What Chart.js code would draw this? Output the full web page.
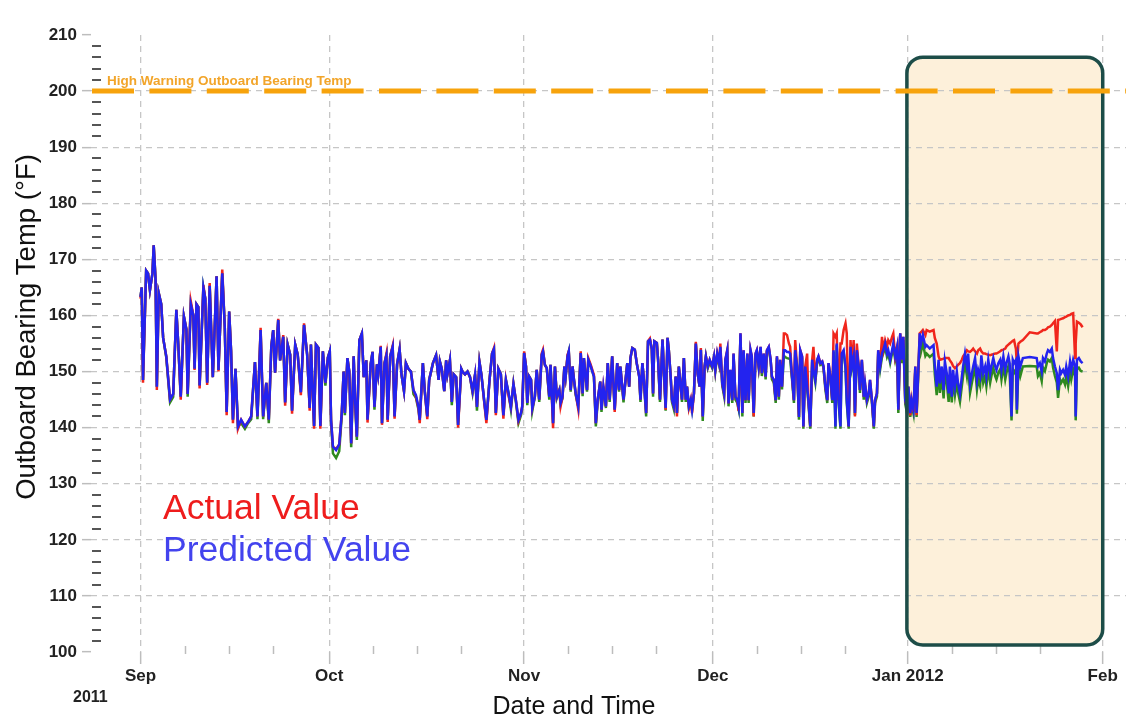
<!DOCTYPE html>
<html><head><meta charset="utf-8">
<script src="https://cdn.jsdelivr.net/npm/chart.js@4.4.1/dist/chart.umd.min.js"></script>
<style>html,body{margin:0;padding:0;background:#fff;}canvas{display:block;}</style>
</head><body>
<canvas id="c" width="1126" height="716"></canvas>
<script>
// ---- axis / label data (days counted from 1 Sep 2011) ----
const monthTicks = [0, 30, 61, 91, 122, 153];
const monthLabels = ['Sep', 'Oct', 'Nov', 'Dec', 'Jan 2012', 'Feb'];
const weekTicks = [7, 14, 21, 37, 44, 51, 68, 75, 82, 98, 105, 112, 129, 136, 143];
const yearLabel = '2011';
const yRange = [100, 210];
const warningLevel = 200;
const warningLabel = 'High Warning Outboard Bearing Temp';
const highlightDays = [121.86, 153.0];
const highlightTemps = [101.25, 206.05];
const seriesNames = ['Actual Value', 'Predicted Value'];
const xTitle = 'Date and Time';
const yTitle = 'Outboard Bearing Temp (\u00B0F)';

// ---- series values ----
const daysSep = [0,0.2,0.4,0.9,1.2, 1.5,1.9,2.1,2.4,2.6, 2.9,3.3,3.6,4.1,4.7, 5.2,5.7,6.0,6.4,6.9, 7.3,7.5,8.0,8.4,8.6, 8.9,9.2,9.4,10.0,10.3, 10.6,11.0,11.5,12.1,12.4, 13.0,13.4,13.7,14.1,14.4, 14.7,15.1,15.5,16.0,16.6, 17.1,17.6,18.2,18.6,19.1, 19.5,20.0,20.4,20.8,21.1, 21.4,21.9,22.2,22.7,23.0, 23.4,23.8,24.1,24.6,25.0, 25.5,26.0,26.5,26.9,27.1, 27.6,27.9,28.3,28.6,29.0, 29.4,29.8];
const predSep = [163.3,165,148.5,168,167.5, 164.5,167.5,172.5,166.3,147.3, 164,162,156,152.7,145, 146,161,155,145.5,159.8, 157.5,146,162,160,150.5, 162,161.5,147.5,165,163, 148,165.3,149,167,150.3, 167.5,158,142.8,160.7,153.8, 141.4,150.5,140.2,141.4,140.2, 141,142,151.7,142,157.4, 142,148,141.4,154.5,157.4, 149.8,159.2,152,156.2,144.5, 154.8,153,143,154.8,153, 146.3,158.3,153,143.5,154.8, 140.3,154.8,154.2,140.3,153.6, 148,152.5];
const actSep = [163.0,165,148,168,167.5, 164.5,167.5,172.5,166.3,146.7, 164,162,156,152.7,145, 146,161,155,145,159.8, 157.5,146,162.5,160,150.3, 162,161.5,147,165.4,163, 147.6,165.8,149,167,150, 168.2,158,142.2,160.7,153.8, 140.8,150.5,139.8,141.4,140.2, 141,142,151.7,142,157.8, 142,148,141.4,154.5,157.4, 149.8,159.4,152,156.5,143.9, 154.8,153,142.5,154.8,153, 145.8,158.6,153,143,154.8, 139.8,154.8,154.2,139.8,153.6, 148,152.5];
const lowSep = [163.3,165,148.5,168,167.5, 164.5,167.5,172.5,166.3,147.3, 164,162,156,152.5,144.5, 145.5,161,155,145.5,159.8, 157.5,145.5,162,160,150.5, 162,161.5,147.5,165,163, 148,165.3,149,167,150.3, 167.5,158,142.8,160.7,153.8, 141.4,150.5,140.2,140.8,139.8, 140.8,141.5,151.7,141.5,157.4, 141.5,148,140.8,154.5,157.4, 149.8,159.2,152,156.2,144.5, 154.8,153,143,154.8,153, 146.3,158.3,153,143.5,154.8, 140.3,154.8,154.2,140.3,153.6, 147.5,152.5];

const daysOct = [30.1,30.3,30.6,31.1,31.6, 32.0,32.3,32.5,32.9,33.2, 33.5,33.9,34.1,34.4,34.8, 35.2,35.5,35.9,36.1,36.6, 36.9,37.2,37.6,37.8,38.2, 38.4,38.8,39.1,39.3,39.7, 40.1,40.4,40.8,41.2,41.5, 41.9,42.2,42.6,43.0,43.4, 43.8,44.2,44.4,44.9,45.2, 45.6,45.9,46.5,47.0,47.4, 47.6,47.9,48.3,48.6,48.8, 49.2,49.5,49.8,50.2,50.5, 51.0,51.2,51.6,52.0,52.4, 52.8,53.2,53.5,53.9,54.2, 54.7,55.0,55.5,55.9,56.2, 56.5,56.9,57.3,57.7,58.1, 58.5,58.9,59.3,59.7,60.1, 60.5];
const predOct = [153.6,141.4,136.6,136,137, 142.6,150,142.6,152.4,150, 137.2,152.7,145.5,138.4,155.6, 156.8,149,152,141.4,151.3, 153.5,143.7,151.3,149.5,154.4, 140.8,151.5,152.9,141.4,152.7, 154.4,142,151.3,154,149.5, 146.5,151.5,150.5,150,146.7, 145.8,143.7,141.4,151.5,146.5, 142,148.5,151.5,152.9,148.5, 151.8,150.5,146.5,152,149.5, 152,144.6,149.5,149,140.5, 150.5,150,149.5,150,149, 146.5,149.5,143.7,151.7,149.5, 144.3,141.4,148.5,153.2,154, 142.6,150.5,149.5,142.2,148.5, 146.3,143.7,147.8,144.8,141.4, 142.6];
const actOct = [153.6,141.4,136.6,136.2,137, 142.6,150,142.6,152.4,150, 137.2,152.7,145.5,138.4,155.6, 156.8,149,152,140.9,151.3, 153.5,143.7,151.3,149.5,154.6, 140.5,151.5,153.2,141,152.7, 154.6,141.6,151.3,154,149.5, 146.5,151.5,150.5,150,146.7, 145.5,143.5,140.8,151.5,146.5, 141.5,148.5,151.5,152.9,148.5, 151.8,150.5,146.5,152,149.5, 152,144.6,149.5,149,140, 150.5,150,149.5,150,149, 146.5,149.5,143.7,151.7,149.5, 144,140.8,148.5,153.2,154.2, 142.2,150.5,149.5,141.6,148.5, 145.8,143.7,147.8,144.8,141.2, 142.6];
const lowOct = [153.6,141,135.4,134.6,135.8, 142,150,142.2,152.4,150, 136.5,152.7,145,137.8,155.6, 156.8,149,152,141.4,151.3, 153.5,143.2,151.3,149.5,154.4, 140.8,151.5,152.9,141.4,152.7, 154.4,142,151.3,154,149.5, 146.5,151.5,150.5,150,146, 145.3,143.2,141.4,151.5,146.5, 142,148.5,151.5,152.9,148.5, 151.8,150.5,146.5,152,149.5, 152,144,149.5,149,140.5, 150.5,150,149.5,150,149, 146.2,149.5,143,151.7,149.5, 144.3,141.4,148.5,153.2,154, 142.6,150.5,149.5,142.2,148.5, 146.3,143.2,147.8,144.5,140.8, 142.2];

const daysNov = [60.7,61.0,61.3,61.5,61.8,62.1,62.3,62.7,63.0,63.4, 63.8,64.0,64.3,64.6,65.0,65.2,65.6,65.9,66.2,66.6, 66.8,67.1,67.4,67.6,67.9,68.1,68.4,68.7,68.9,69.2, 69.6,70.0,70.3,70.5,71.0,71.2,71.6,72.1,72.4,72.7, 73.1,73.3,73.6,74.0,74.3,74.6,75.0,75.4,75.8,76.1, 76.3,76.8,77.1,77.4,77.7,77.9,78.2,78.6,78.9,79.3, 79.5,79.8,80.0,80.4,80.7,81.0,81.3,81.5,81.7,82.1, 82.3,82.6,83.0,83.2,83.5,83.8,84.0,84.3,84.5,84.8, 85.1,85.3,85.6,85.9,86.1,86.4,86.7,86.9,87.2,87.5, 87.7,88.0,88.3,88.6,88.9,89.1,89.4,89.7,89.9,90.2, 90.5];
const predNov = [143.8,153.3,150.9,144.4,149.1,148.5,143.5,145.5,150.3,145, 153,153.6,151.2,150.6,145.5,151.2,140.8,150.9,145.5,146.7, 144.4,145.5,150.9,149.1,152.7,153.6,146.7,150.9,148.8,146.1, 143.8,153.3,146.1,152.4,146.7,152.1,150.9,149.1,140.8,145, 148.2,143.2,147.3,143.8,151.5,145,152.7,143.2,151.5,146.7, 150.9,145,148.2,151.5,147.3,152.4,154.2,153.9,151.5,149.1, 145,151.5,149.1,142.6,155.4,155.7,154,146.1,155.4,155.1, 152.1,145,155.7,150.9,143.5,156,153.9,149.1,145,143.8, 149.1,142.6,150.9,147.3,145,152.4,145,147.3,143.8,145, 143.2,146.1,155,149.6,147.3,153.9,142,150.9,152.7,150.9, 152.1];
const actNov = [143.8,153.6,150.9,144.4,149.1,148.5,143.5,145.5,150.3,145, 153.2,153.9,151.2,150.6,145.5,151.2,139.9,150.9,145.5,146.7, 143.8,145.5,150.9,149.1,153,153.6,146.7,150.9,148.8,146.1, 143.3,153.6,146.1,152.4,146.7,152.4,151.2,149.4,140.8,145, 148.2,143.2,147.3,143.8,151.5,145,152.7,142.8,151.5,146.7, 150.9,145,148.2,151.5,147.3,152.4,154.2,153.9,151.5,149.1, 145,151.5,149.1,142.6,155.4,155.9,154,146.1,155.4,155.1, 152.1,145,155.7,150.9,143.2,156,153.9,149.1,145,143.8, 149.1,142,150.9,147.3,145,152.4,145,147.3,143.5,145, 142.6,146.1,155.3,149.6,147.3,154.2,142,150.9,152.7,150.9, 152.1];
const lowNov = [143.4,153.3,150.9,144,149.1,148.5,143,145.5,150.3,144.6, 153,153.6,151.2,150.6,145,151.2,140.8,150.9,145.3,146.7, 144.2,145.2,150.9,149.1,152.7,153.6,146.4,150.9,148.8,145.8, 143.8,153.3,145.6,152.4,146.4,152.1,150.9,149.1,140.2,144.6, 148.2,142.8,147.3,143.5,151.5,144.6,152.7,143.2,151.5,146.4, 150.9,144.5,148.2,151.5,147.3,152.4,154.2,153.9,151.5,149.1, 144.6,151.5,149.1,142,155.4,155.7,154,145.5,155.4,155.1, 152.1,144.6,155.7,150.9,143,156,153.9,149.1,144.6,143.3, 149.1,142.6,150.9,147.3,144.6,152.4,144.6,147.3,143.5,144.6, 143.2,146.1,155,149.6,147.3,153.9,141.2,150.9,152.7,150.6, 151.6];

const daysDec = [90.9,91.2,91.4,91.7,92.0,92.2,92.5,92.8,93.0,93.3, 93.5,93.8,94.1,94.3,94.6,94.9,95.1,95.4,95.7,95.9, 96.2,96.5,96.7,97.0,97.2,97.5,97.8,98.0,98.3,98.6, 98.8,99.1,99.4,99.6,99.9,100.2,100.4,100.7,101.0,101.2, 101.5,101.7,102.0,102.3,102.5,102.8,103.1,103.3,103.6,103.9, 104.1,104.4,104.7,104.9,105.2,105.4,105.7,106.0,106.2,106.5, 106.8,107.0,107.3,107.6,107.8,108.1,108.4,108.6,108.9,109.2, 109.4,109.7,110.0,110.2,110.5,110.7,111.0,111.3,111.5,111.8, 112.1,112.3,112.6,112.9,113.1,113.4,113.6,113.9,114.2,114.4, 114.7,115.0,115.2,115.5,115.8,116.0,116.3,116.6,116.8,117.1, 117.3,117.6,117.9,118.1,118.4,118.7,118.9,119.2,119.5,119.7, 120.0,120.3,120.5,120.8,121.1,121.3,121.6,121.9];
const predDec = [150.9,152.7,150.3,153.2,151.5,154.4,147.9,146.1,152.1,153.8, 144.3,150.3,144.9,153.2,145.5,144.9,143.7,156.8,142.6,153.8, 144.9,153.2,144.9,153.8,152.7,142.6,153.2,153.8,150.9,154.4, 149.7,153.2,149.1,153.8,154.4,152.1,149.1,148.5,144.9,152.7, 145.5,152.1,147.3,153.8,153.8,153.5,153.5,153.2,149.1,144.9, 153.8,150.9,141.9,153.8,152.7,140.2,150.9,147.3,144.9,140.2, 152.1,150.3,148.5,152.1,152.7,151.5,151.8,150.9,147.3,144.9, 151.5,149.1,144.9,153.8,140.2,155,144.9,140.2,153.2,153.8, 150.9,144.9,140.2,154.4,150.9,152.7,142.6,153.8,150.9,146.7, 152.1,145.5,147.9,144.9,146.1,148.5,144.9,140.2,144.9,146.1, 153.8,150.9,153.2,153.8,155,153.2,153.8,152.1,153.8,155, 152.7,154.4,143.2,156.8,152.1,156.2,144.9,143.2];
const actDec = [150.9,152.7,150.3,153.2,151.5,155,147.9,146.1,152.1,153.8, 144.3,150.3,144.9,153.2,145.5,144.9,143,156.8,142.6,153.8, 144.9,153.2,144.9,153.8,152.7,142,153.2,153.8,150.9,154.4, 149.7,153.2,149.1,153.8,154.4,152.1,149.1,148.5,144.9,152.7, 145.5,152.1,147.3,156.8,156.8,156.5,155,154.4,149.1,144.9, 155.6,150.9,141.9,153.8,152.7,140.2,150.9,153.2,144.9,140.2, 152.1,154.4,148.5,152.1,152.7,151.5,151.8,150.9,147.3,144.9, 151.5,149.1,144.9,156.8,156.2,156.8,144.9,155,155,157.4, 158.6,156.8,140.2,155.6,150.9,155.6,142,155,150.9,146.7, 152.1,145.5,147.9,144.9,146.1,148.5,144.9,140.2,144.9,146.1, 153.8,150.9,156.2,153.8,155.6,154.4,155.6,155,156.2,156.8, 152.7,154.4,143.2,156.8,152.1,156.2,144.9,143.2];
const lowDec = [150.6,152.4,150,152.9,151.2,154.1,147.5,145.6,151.8,153.5, 143.8,150,144.4,152.9,145,144.4,143.3,156.5,142,153.5, 144.4,152.9,144.4,153.5,152.4,142,152.9,153.5,150.6,154.1, 149.2,152.9,148.6,153.5,154.1,151.8,148.6,148,144.4,152.4, 145,151.8,146.8,152.8,152.6,152.4,152.3,152.2,148.6,144.4, 153.5,150.6,141.4,153.5,152.4,139.8,150.6,146.8,144.4,139.8, 151.8,150,148,151.8,152.4,151.2,151.5,150.6,146.8,144.4, 151.2,148.6,144.4,153.5,139.8,154.7,144.4,139.8,152.9,153.5, 150.6,144.4,139.8,154.1,150.6,152.4,142.2,153.5,150.6,146.2, 151.8,145,147.5,144.4,145.6,148,144.4,139.8,144.4,145.6, 153.2,150.3,152.6,153.2,154.4,152.6,153.2,151.5,153.2,154.4, 152.1,153.8,142.6,156.2,151.5,155.6,144.2,142.5];

const daysJan = [122.1,122.4,122.6,122.9,123.2,123.4,123.7, 123.9,124.1,124.4,124.8,125.0,125.5,126.1,126.3,126.6,126.9, 127.1,127.4,127.7,127.9,128.2,128.5,128.7,129.0,129.2,129.5, 129.8,130.0,130.3,130.6,130.8,131.1,131.4,131.6,131.9,132.2, 132.4,132.7,133.0,133.2,133.5,133.7,134.0,134.3,134.5,134.8, 135.1,135.3,135.6,135.9,136.1,136.4,136.7,136.9,137.2,137.5, 137.7,138.0,138.2,138.5,138.7,138.9,139.2,139.35,139.6,139.9, 140.3,141.4,142.5,142.7,143.0,143.3,143.5,143.8,144.1,144.3, 144.6,144.9,145.1,145.4,145.7,145.9,146.2,146.4,146.7,147.0, 147.2,147.5,147.8,148.0,148.3,148.6,148.7,148.9,149.2,149.5, 149.8];
const predJan = [147.3,142.6,144.9,143.2,150.9,142.6,150.9, 156.8,155.0,156.5,154.4,154.7,154.1,154.7,151.0,147.3,152.1, 147.9,150.9,146.7,151.8,149.7,146.1,150.9,145.5,150.3,147.3, 150.0,147.9,146.1,149.1,150.9,153.2,150.9,153.2,147.9,149.7, 150.9,152.4,148.5,150.3,149.1,152.9,149.7,150.9,149.1,152.1, 149.7,150.9,152.4,150.9,150.3,151.5,152.1,150.3,152.7,150.3, 151.5,152.7,151.5,142.0,152.1,151.5,152.1,143.2,152.7,150.9, 152.4,152.6,152.4,150.9,151.5,150.0,152.4,151.8,153.2,153.8, 153.5,154.1,152.4,150.9,149.7,146.7,150.3,149.7,150.3,149.4, 150.9,149.1,151.8,150.3,152.1,150.9,142.0,152.1,152.4,151.8, 151.5];
const actJan = [147.3,142.2,144.9,142.8,150.9,142.2,150.9, 156.8,157.0,157.4,156.5,157.4,157.1,157.4,156.0,155.0,152.7, 152.1,152.2,152.3,152.4,152.4,152.4,152.0,151.5,151.0,150.6, 150.9,151.2,151.5,152.1,152.7,153.2,153.8,153.6,153.5,153.8, 154.1,153.6,153.2,153.8,154.1,153.6,153.2,153.2,153.1,153.0, 152.9,153.0,153.1,153.2,153.2,153.4,153.6,153.8,153.9,154.1, 154.5,154.8,155.0,155.3,155.5,155.6,154.0,151.2,155.0,155.3, 155.6,157.0,156.8,156.8,157.0,157.2,157.4,157.4,157.6,157.9, 158.0,158.3,158.6,159.0,153.6,159.2,159.3,159.4,159.5,159.7, 159.8,160.0,160.1,160.3,160.4,152.4,155.0,158.9,158.7,158.4, 157.9];
const lowJan = [146.6,141.9,144.2,142.5,150.2,141.9,150.2, 155.5,153.5,155.0,152.8,153.2,152.6,153.2,149.5,145.8,150.6, 146.2,149.2,145.2,150.0,148.0,144.6,149.2,144.5,148.6,145.8, 148.3,146.2,144.6,147.4,149.2,151.5,149.2,151.5,146.2,148.0, 149.2,150.7,146.8,148.6,147.4,151.2,148.0,149.2,147.4,150.4, 148.0,149.2,150.7,149.2,148.6,149.8,150.4,148.6,151.0,148.6, 149.8,151.0,149.8,141.3,150.4,149.8,150.4,142.5,151.0,149.2, 150.9,151.0,150.9,149.2,149.8,148.3,150.7,150.1,151.5,152.1, 151.8,152.4,150.7,149.2,148.0,145.3,148.6,148.0,148.6,147.7, 149.2,147.4,150.1,148.6,150.4,149.2,141.3,150.4,150.7,150.1, 150.0];

const days = [...daysSep, ...daysOct, ...daysNov, ...daysDec, ...daysJan];
const actual = [...actSep, ...actOct, ...actNov, ...actDec, ...actJan];
const predicted = [...predSep, ...predOct, ...predNov, ...predDec, ...predJan];
const lowerEstimate = [...lowSep, ...lowOct, ...lowNov, ...lowDec, ...lowJan];

function pts(vals) {
  const n = Math.min(days.length, vals.length);
  const out = [];
  for (let i = 0; i < n; i++) out.push({x: days[i], y: vals[i]});
  return out;
}

const FONT = '"Liberation Sans", Arial, Helvetica, sans-serif';
Chart.defaults.font.family = FONT;

const decor = {
  id: 'decor',
  beforeDraw(chart) {
    const {ctx, scales: {x, y}} = chart;
    const l = x.getPixelForValue(highlightDays[0]), r = x.getPixelForValue(highlightDays[1]);
    const t = y.getPixelForValue(highlightTemps[1]), b = y.getPixelForValue(highlightTemps[0]);
    ctx.save();
    ctx.fillStyle = '#fdf0da';
    ctx.beginPath();
    ctx.roundRect(l, t, r - l, b - t, 16);
    ctx.fill();
    ctx.restore();
  },
  afterDatasetsDraw(chart) {
    const {ctx, chartArea: ca, scales: {x, y}} = chart;
    ctx.save();
    // minor y ticks
    ctx.strokeStyle = '#555';
    ctx.lineWidth = 2;
    for (let v = yRange[0] + 2; v < yRange[1]; v += 2) {
      if (v % 10 === 0) continue;
      const py = Math.round(y.getPixelForValue(v));
      ctx.beginPath(); ctx.moveTo(ca.left + 1, py); ctx.lineTo(ca.left + 10, py); ctx.stroke();
    }
    // minor x ticks
    ctx.strokeStyle = '#bdbdbd';
    ctx.lineWidth = 1.5;
    weekTicks.forEach(d => {
      const px = Math.round(x.getPixelForValue(d)) + 0.5;
      ctx.beginPath(); ctx.moveTo(px, ca.bottom - 6); ctx.lineTo(px, ca.bottom + 2); ctx.stroke();
    });
    // highlight border
    const l = x.getPixelForValue(highlightDays[0]), r = x.getPixelForValue(highlightDays[1]);
    const t = y.getPixelForValue(highlightTemps[1]), b = y.getPixelForValue(highlightTemps[0]);
    ctx.strokeStyle = '#1d4d48';
    ctx.lineWidth = 3.5;
    ctx.beginPath(); ctx.roundRect(l, t, r - l, b - t, 16); ctx.stroke();
    // warning line
    const wy = y.getPixelForValue(warningLevel);
    ctx.strokeStyle = '#f7a30c';
    ctx.lineWidth = 5;
    ctx.setLineDash([42, 15.4]);
    ctx.beginPath(); ctx.moveTo(ca.left + 1, wy); ctx.lineTo(ca.right, wy); ctx.stroke();
    ctx.setLineDash([]);
    ctx.fillStyle = '#f2a52a';
    ctx.font = 'bold 13.5px ' + FONT;
    ctx.textAlign = 'left'; ctx.textBaseline = 'alphabetic';
    ctx.fillText(warningLabel, ca.left + 16, wy - 6);
    ctx.restore();
  },
  afterDraw(chart) {
    const {ctx} = chart;
    ctx.save();
    ctx.fillStyle = '#111';
    ctx.font = '27.5px ' + FONT;
    ctx.translate(27, 327); ctx.rotate(-Math.PI / 2);
    ctx.textAlign = 'center'; ctx.textBaseline = 'middle';
    ctx.fillText(yTitle, 0, 0);
    ctx.restore();
    ctx.save();
    ctx.fillStyle = '#111';
    ctx.font = '25px ' + FONT;
    ctx.textAlign = 'center'; ctx.textBaseline = 'alphabetic';
    ctx.fillText(xTitle, 574, 714);
    ctx.font = 'bold 16px ' + FONT;
    ctx.fillStyle = '#222';
    ctx.textAlign = 'left';
    ctx.fillText(yearLabel, 73, 702);
    ctx.font = '35.5px ' + FONT;
    ctx.fillStyle = '#ee1c1c';
    ctx.fillText(seriesNames[0], 163, 519);
    ctx.fillStyle = '#4343ee';
    ctx.fillText(seriesNames[1], 163, 561);
    ctx.restore();
  }
};

new Chart(document.getElementById('c'), {
  type: 'line',
  data: {
    datasets: [
      {label: 'Predicted Value', data: pts(predicted), borderColor: '#2323ef', borderWidth: 2.5},
      {label: 'Actual Value', data: pts(actual), borderColor: '#f0261c', borderWidth: 2.5},
      {label: 'Lower Estimate', data: pts(lowerEstimate), borderColor: '#2f8a1f', borderWidth: 2.5}
    ]
  },
  options: {
    responsive: false, animation: false, devicePixelRatio: 1,
    layout: {padding: {top: 35, right: 0, bottom: 0, left: 0}},
    elements: {point: {radius: 0, hoverRadius: 0}, line: {tension: 0, fill: false}},
    plugins: {legend: {display: false}, tooltip: {enabled: false}},
    scales: {
      x: {
        type: 'linear', min: -7.87, max: 156.7,
        afterBuildTicks: s => { s.ticks = monthTicks.map(v => ({value: v})); },
        afterFit: s => { s.height = 64; },
        ticks: {
          autoSkip: false, maxRotation: 0, padding: 2, color: '#222',
          font: {weight: 'bold', size: 17},
          callback: v => monthLabels[monthTicks.indexOf(v)]
        },
        grid: {color: '#c6c6c6', lineWidth: 1.3, tickLength: 12, tickColor: '#bdbdbd', tickWidth: 1.5},
        border: {display: false, dash: [6, 5]}
      },
      y: {
        min: yRange[0], max: yRange[1],
        afterFit: s => { s.width = 91; },
        ticks: {stepSize: 10, padding: 5, color: '#222', font: {weight: 'bold', size: 17}},
        grid: {
          color: c => (c.tick && (c.tick.value === yRange[0] || c.tick.value === yRange[1])) ? 'rgba(0,0,0,0)' : '#c6c6c6',
          lineWidth: 1.3, tickLength: 9, tickColor: '#bdbdbd', tickWidth: 1.5
        },
        border: {display: false, dash: [6, 5]}
      }
    }
  },
  plugins: [decor]
});
</script>
</body></html>
